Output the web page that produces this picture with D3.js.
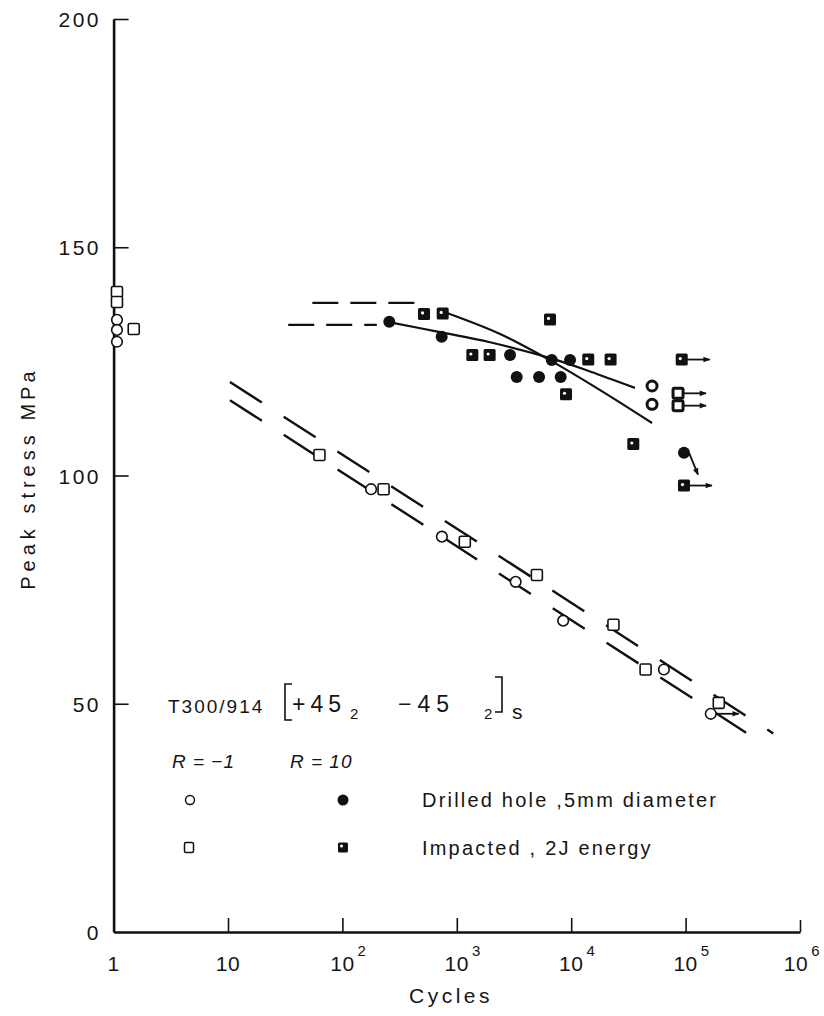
<!DOCTYPE html>
<html>
<head>
<meta charset="utf-8">
<script src="https://cdn.jsdelivr.net/npm/d3@7"></script>
<style>
  body { margin: 0; background: #fff; }
  text { font-family: "Liberation Sans", Arial, sans-serif; fill: #151515; }
</style>
</head>
<body>
<svg id="chart" width="824" height="1016"></svg>
<script>
// ---- axis ticks ----
const xTickValues = [1, 10, 100, 1e3, 1e4, 1e5, 1e6];
const xTickBase   = ["1", "10", "10", "10", "10", "10", "10"];
const xTickExp    = ["", "", "2", "3", "4", "5", "6"];
const yTickValues = [0, 50, 100, 150, 200];

// ---- R = -1, drilled hole (open circles) ----
const drilledR1Cycles = [1.07, 1.07, 1.07, 178, 741, 3270, 8510, 64600, 166000];
const drilledR1Stress = [134.1, 131.9, 129.3, 97.0, 86.6, 76.7, 68.2, 57.5, 47.8];

// ---- R = -1, impacted (open squares) ----
const impactedR1Cycles = [1.07, 1.07, 1.5, 63, 229, 1175, 5010, 23400, 44700, 195000];
const impactedR1Stress = [140.2, 138.0, 132.1, 104.5, 97.0, 85.5, 78.2, 67.3, 57.5, 50.2];

// ---- R = 10, drilled hole (filled circles) ----
const drilledR10Cycles = [257, 738, 2920, 6760, 9770, 3340, 5240, 8090, 96800];
const drilledR10Stress = [133.7, 130.4, 126.4, 125.3, 125.3, 121.6, 121.6, 121.6, 105.0];
// faintly printed points of the same series
const drilledR10FaintCycles = [50900, 50900];
const drilledR10FaintStress = [119.6, 115.6];

// ---- R = 10, impacted (filled squares) ----
const impactedR10Cycles = [517, 753, 1367, 1936, 6530, 9010, 14100, 22100, 34900, 92500, 96800];
const impactedR10Stress = [135.4, 135.5, 126.4, 126.4, 134.2, 117.8, 125.4, 125.4, 106.9, 125.4, 97.8];
const impactedR10FaintCycles = [85900, 85900];
const impactedR10FaintStress = [118.0, 115.3];

// ---- run-outs (unbroken specimens) ----
const runoutCycles = [166000, 92500, 85900, 85900, 96800, 96800];
const runoutStress = [47.8, 125.4, 118.0, 115.3, 97.8, 105.0];
const runoutDir    = ["right", "right", "right", "right", "right", "down"];

// ---- mean curves, R = -1 (dashed straight lines) ----
const impactedR1LineCycles = [10.4, 584000];
const impactedR1LineStress = [120.5, 43.5];
const drilledR1LineCycles  = [10.4, 494000];
const drilledR1LineStress  = [116.5, 41.0];

// ---- mean curves, R = 10 (solid) with dashed static levels ----
const impactedR10CurveCycles = [820, 2390, 6790, 17900, 50900];
const impactedR10CurveStress = [135.6, 131.0, 125.0, 118.7, 111.5];
const drilledR10CurveCycles  = [255, 713, 1950, 6790, 14600, 36100];
const drilledR10CurveStress  = [133.6, 131.4, 129.2, 125.6, 122.8, 119.2];
const impactedStaticCycles = [54.6, 477];
const impactedStaticStress = [137.8, 137.8];
const drilledStaticCycles  = [33.6, 200];
const drilledStaticStress  = [133.0, 133.0];

// ---- legend ----
const legendRows  = ["Drilled hole ,5mm diameter", "Impacted ,  2J energy"];
const legendCols  = ["R = \u22121", "R = 10"];

const svg = d3.select("#chart");
const x = d3.scaleLog().domain([1, 1e6]).range([113.6, 800]);
const y = d3.scaleLinear().domain([0, 200]).range([932, 19]);

const ink = "#111";

// arrowhead
svg.append("defs").append("marker")
  .attr("id", "arrow").attr("viewBox", "0 0 10 10")
  .attr("refX", 9).attr("refY", 5)
  .attr("markerWidth", 10).attr("markerHeight", 7).attr("markerUnits", "userSpaceOnUse")
  .attr("orient", "auto")
  .append("path").attr("d", "M0,1 L10,5 L0,9 Z").attr("fill", ink);

// ---- axes ----
const xAxis = d3.axisBottom(x).tickValues(xTickValues.slice(1)).tickSizeInner(-14).tickSizeOuter(0).tickFormat("");
const gx = svg.append("g").attr("transform", `translate(0,${y(0)})`).call(xAxis);
gx.selectAll(".tick line").attr("stroke", ink).attr("stroke-width", 1.6);
gx.select(".tick:last-of-type line").attr("y2", -12);
gx.select(".domain").attr("stroke", ink).attr("stroke-width", 2.6);

const yAxis = d3.axisLeft(y).tickValues(yTickValues.slice(1)).tickSizeInner(-15).tickSizeOuter(0).tickFormat("");
const gy = svg.append("g").attr("transform", `translate(${x(1)},0)`).call(yAxis);
gy.selectAll(".tick line").attr("stroke", ink).attr("stroke-width", 1.6);
gy.select(".domain").attr("stroke", ink).attr("stroke-width", 2.6);

// y tick labels
svg.append("g").selectAll("text").data(yTickValues).join("text")
  .attr("x", 101).attr("y", d => y(d) + 8)
  .attr("text-anchor", "end")
  .attr("font-size", 21).attr("letter-spacing", 2.5)
  .text(d => d);

// x tick labels with powers of ten
const xl = svg.append("g").selectAll("text").data(xTickValues).join("text")
  .attr("x", d => x(d)).attr("y", 971)
  .attr("text-anchor", "middle")
  .attr("font-size", 21).attr("letter-spacing", 0.5);
xl.append("tspan").text((d, i) => xTickBase[i]);
xl.append("tspan").attr("dy", -15).attr("dx", 3).attr("font-size", 15)
  .text((d, i) => xTickExp[i]);
// keep the base number centred on its tick; superscript hangs to the right
xl.each(function (d, i) {
  if (xTickExp[i]) {
    const base = d3.select(this).select("tspan").node().getComputedTextLength();
    const shift = i === xTickValues.length - 1 ? 4 : 0;
    d3.select(this).attr("text-anchor", "start").attr("x", x(d) - base / 2 - shift);
  }
});

// axis titles
svg.append("text").attr("x", 451).attr("y", 1003)
  .attr("text-anchor", "middle").attr("font-size", 21).attr("letter-spacing", 3.5)
  .text("Cycles");
svg.append("text").attr("transform", "translate(35,510) rotate(-90)")
  .attr("text-anchor", "middle").attr("font-size", 20).attr("letter-spacing", 5)
  .text("Peak stress");
svg.append("text").attr("transform", "translate(35,394) rotate(-90)")
  .attr("text-anchor", "middle").attr("font-size", 20).attr("letter-spacing", 4)
  .text("MPa");

// ---- curves ----
const pts = (cs, ss) => cs.map((c, i) => [x(c), y(ss[i])]);
const straight = d3.line();
const smooth = d3.line().curve(d3.curveCatmullRom.alpha(0.5));

function drawLine(cs, ss, gen, dash, w) {
  svg.append("path").attr("d", gen(pts(cs, ss)))
    .attr("fill", "none").attr("stroke", ink).attr("stroke-width", w)
    .attr("stroke-dasharray", dash);
}
drawLine(impactedR1LineCycles, impactedR1LineStress, straight, "38 26", 2.4);
drawLine(drilledR1LineCycles, drilledR1LineStress, straight, "38 26", 2.4);
drawLine(impactedR10CurveCycles, impactedR10CurveStress, smooth, null, 2.2);
drawLine(drilledR10CurveCycles, drilledR10CurveStress, smooth, null, 2.2);
drawLine(impactedStaticCycles, impactedStaticStress, straight, "26 12", 2.2);
drawLine(drilledStaticCycles, drilledStaticStress, straight, "26 12", 2.2);

// ---- run-out arrows ----
svg.append("g").selectAll("line").data(runoutCycles).join("line")
  .attr("x1", (d, i) => x(d) + 5)
  .attr("y1", (d, i) => y(runoutStress[i]))
  .attr("x2", (d, i) => x(d) + (runoutDir[i] === "right" ? 28 : 14))
  .attr("y2", (d, i) => y(runoutStress[i]) + (runoutDir[i] === "right" ? 0 : 22))
  .attr("stroke", ink).attr("stroke-width", 1.8)
  .attr("marker-end", "url(#arrow)");

// ---- markers ----
function openCircles(g, cs, ss, r, w) {
  g.selectAll(null).data(cs).join("circle")
    .attr("cx", d => x(d)).attr("cy", (d, i) => y(ss[i])).attr("r", r)
    .attr("fill", "#fff").attr("stroke", ink).attr("stroke-width", w);
}
function openSquares(g, cs, ss, s, w) {
  g.selectAll(null).data(cs).join("rect")
    .attr("x", d => x(d) - s / 2).attr("y", (d, i) => y(ss[i]) - s / 2)
    .attr("width", s).attr("height", s).attr("rx", 1.5)
    .attr("fill", "#fff").attr("stroke", ink).attr("stroke-width", w);
}
function filledCircles(g, cs, ss) {
  g.selectAll(null).data(cs).join("circle")
    .attr("cx", d => x(d)).attr("cy", (d, i) => y(ss[i])).attr("r", 6)
    .attr("fill", ink);
}
function filledSquares(g, cs, ss) {
  const s = g.selectAll(null).data(cs).join("g")
    .attr("transform", (d, i) => `translate(${x(d)},${y(ss[i])})`);
  s.append("rect").attr("x", -6).attr("y", -6).attr("width", 12).attr("height", 12)
    .attr("rx", 1.5).attr("fill", ink);
  s.append("circle").attr("cx", -1.5).attr("cy", -1).attr("r", 1.6).attr("fill", "#fff");
}
const gm = svg.append("g");
openCircles(gm.append("g"), drilledR1Cycles, drilledR1Stress, 5.3, 1.6);
openSquares(gm.append("g"), impactedR1Cycles, impactedR1Stress, 11, 1.6);
filledCircles(gm.append("g"), drilledR10Cycles, drilledR10Stress);
filledSquares(gm.append("g"), impactedR10Cycles, impactedR10Stress);
openCircles(gm.append("g"), drilledR10FaintCycles, drilledR10FaintStress, 5, 3);
openSquares(gm.append("g"), impactedR10FaintCycles, impactedR10FaintStress, 10, 3);

// ---- laminate label and legend ----
svg.append("text").attr("x", 168).attr("y", 713)
  .attr("font-size", 19).attr("letter-spacing", 2).text("T300/914");

// [+45_2 -45_2]_s, each piece placed along the line
const lamText = svg.append("g").attr("font-size", 23);
lamText.append("text").attr("x", 292).attr("y", 712).attr("letter-spacing", 5).text("+45");
lamText.append("text").attr("x", 350).attr("y", 719).attr("font-size", 15).text("2");
lamText.append("text").attr("x", 398).attr("y", 712).attr("letter-spacing", 6).text("\u221245");
lamText.append("text").attr("x", 484).attr("y", 719).attr("font-size", 15).text("2");
lamText.append("text").attr("x", 512).attr("y", 719).attr("font-size", 21).text("s");
svg.append("path").attr("d", "M292,684 H285 V720 H292")
  .attr("fill", "none").attr("stroke", ink).attr("stroke-width", 1.6);
svg.append("path").attr("d", "M495,677 H502 V712 H495")
  .attr("fill", "none").attr("stroke", ink).attr("stroke-width", 1.6);

svg.append("g").selectAll("text").data(legendCols).join("text")
  .attr("x", (d, i) => [172, 290][i]).attr("y", 768)
  .attr("font-size", 19).attr("font-style", "italic").attr("letter-spacing", 1)
  .text(d => d);

const lg = svg.append("g");
lg.append("circle").attr("cx", 190).attr("cy", 800).attr("r", 4.5)
  .attr("fill", "#fff").attr("stroke", ink).attr("stroke-width", 1.5);
lg.append("circle").attr("cx", 343).attr("cy", 800).attr("r", 5.5).attr("fill", ink);
lg.append("rect").attr("x", 184.5).attr("y", 842.5).attr("width", 9).attr("height", 10)
  .attr("rx", 1.5).attr("fill", "#fff").attr("stroke", ink).attr("stroke-width", 1.5);
lg.append("rect").attr("x", 338).attr("y", 842.5).attr("width", 10).attr("height", 10)
  .attr("rx", 1.5).attr("fill", ink);
lg.append("circle").attr("cx", 341.5).attr("cy", 846).attr("r", 1.5).attr("fill", "#fff");

lg.selectAll("text").data(legendRows).join("text")
  .attr("x", 422).attr("y", (d, i) => 807 + i * 48)
  .attr("font-size", 20).attr("letter-spacing", 2.2)
  .text(d => d);
</script>
</body>
</html>
